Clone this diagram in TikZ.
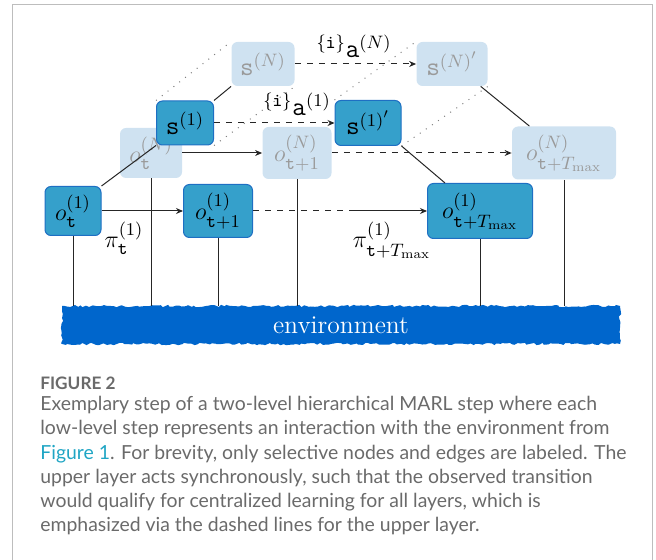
\documentclass[tikz,border=0pt]{standalone}
\usepackage{amsmath,amssymb}
\usepackage{xcolor}
\usepackage{fontspec}
\newfontfamily\captionfont{Lato}
\usetikzlibrary{arrows.meta,calc,decorations.pathmorphing}

\definecolor{lowblue}{HTML}{35A0CB}
\definecolor{lowedge}{HTML}{1E6FC3}
\definecolor{highblue}{HTML}{CFE2F1}
\definecolor{highgray}{HTML}{9A9A9A}
\definecolor{envblue}{HTML}{0066CC}
\definecolor{capgray}{HTML}{6A6A6A}
\definecolor{linkteal}{HTML}{1FA5C4}
\definecolor{framegray}{HTML}{BDBDBD}

\begin{document}
\begin{tikzpicture}[x=0.5pt,y=-0.5pt,
  lowbox/.style={draw=lowedge, fill=lowblue, line width=0.5pt, rounded corners=3pt, inner sep=0pt, font=\fontsize{13.2}{15}\selectfont},
  highbox/.style={fill=highblue, text=highgray, rounded corners=3pt, inner sep=0pt, font=\fontsize{13.2}{15}\selectfont},
  edgelabel/.style={font=\fontsize{13.2}{15}\selectfont},
  link/.style={line width=0.5pt, black!85},
  arrowlink/.style={link, -{Stealth[length=3.5pt,width=3pt]}},
  layerdots/.style={gray, line width=0.5pt, dash pattern=on 0.5pt off 3.2pt}]
\useasboundingbox (0,0) rectangle (656,560);

% Frame
\draw[framegray, line width=0.8pt] (12.5,560) -- (12.5,4.5) -- (652.5,4.5) -- (652.5,560);

% Upper layer (agent N)
\node[highbox, minimum width=31.5pt, minimum height=22pt] (sN) at (263,64) {$\mathtt{s}^{(N)}$};
\node[highbox, minimum width=35.5pt, minimum height=22pt] (sNp) at (452,64) {$\mathtt{s}^{(N)'}$};
\node[highbox, minimum width=31pt, minimum height=25pt] (otN) at (151,153) {$o^{(N)}_{\mathtt{t}}$};
\node[highbox, minimum width=34.5pt, minimum height=26pt] (ot1N) at (297,153) {$o^{(N)}_{\mathtt{t}+1}$};
\node[highbox, minimum width=52pt, minimum height=26.5pt] (oTN) at (564,153) {$o^{(N)}_{\mathtt{t}+T_{\max}}$};

% Lower layer (agent 1)
\node[lowbox, minimum width=28.5pt, minimum height=22pt] (s1) at (185,123) {$\mathtt{s}^{(1)}$};
\node[lowbox, minimum width=33pt, minimum height=22.5pt] (s1p) at (368,123) {$\mathtt{s}^{(1)'}$};
\node[lowbox, minimum width=28pt, minimum height=24.5pt] (ot1) at (73,211) {$o^{(1)}_{\mathtt{t}}$};
\node[lowbox, minimum width=34.5pt, minimum height=26.5pt] (ot11) at (218,211) {$o^{(1)}_{\mathtt{t}+1}$};
\node[lowbox, minimum width=52.5pt, minimum height=27.5pt] (oT1) at (480,211) {$o^{(1)}_{\mathtt{t}+T_{\max}}$};

% Environment
\node[fill=envblue, text=white, font=\fontsize{12.8}{15}\selectfont, minimum width=279pt, minimum height=19pt, inner sep=0pt,
  decorate, decoration={random steps, segment length=1.5pt, amplitude=0.6pt}] (env) at (341,325) {environment};

% Dotted layer edges
\draw[layerdots] (s1.north west) -- (sN.north west);
\draw[layerdots] (s1.south east) -- (sN.south east);
\draw[layerdots] (s1p.north west) -- (sNp.north west);
\draw[layerdots] (s1p.south east) -- (sNp.south east);

% Hierarchy links
\draw[link] (ot1.north east) -- (s1.south west);
\draw[link] (s1.north east) -- (sN.south west);
\draw[link] (s1p.south east) -- ($(oT1.north west)!0.17!(oT1.north east)$);
\draw[link] ($(sNp.south west)!0.9!(sNp.south east)$) -- ($(oTN.north west)!0.17!(oTN.north east)$);

% Interaction with the environment
\foreach \o in {ot1,otN,ot11,ot1N,oT1,oTN}
  \draw[link] (\o.south) -- (\o.south |- env.north);

% Transitions
\coordinate (skip1) at (355,211);
\draw[arrowlink] (ot1) -- (ot11);
\draw[link, dashed] (ot11) -- (skip1);
\draw[arrowlink] (skip1) -- (oT1);
\draw[arrowlink] (otN) -- (ot1N);
\draw[arrowlink, dashed] (ot1N) -- (oTN);
\draw[arrowlink, dashed] (s1) -- (s1p);
\draw[arrowlink, dashed] (sN) -- (sNp);

% Edge labels
\node[edgelabel] (piT) at (124,238) {$\pi^{(1)}_{\mathtt{t}}$};
\node[edgelabel] (piTmax) at (392,240) {$\pi^{(1)}_{\mathtt{t}+T_{\max}}$};
\node[edgelabel] (act1) at (297,104) {${}^{\{\mathtt{i}\}}\mathtt{a}^{(1)}$};
\node[edgelabel] (actN) at (354,46) {${}^{\{\mathtt{i}\}}\mathtt{a}^{(N)}$};

% Caption
\node[anchor=north west, inner sep=0pt, text=capgray, font=\captionfont\bfseries\fontsize{8.6}{10}\selectfont] (figno) at (40,377) {FIGURE 2};
\node[anchor=north west, inner sep=0pt, align=left, text=capgray, font=\captionfont\fontsize{9.7}{12.1}\selectfont] (caption) at (40,396)
  {Exemplary step of a two-level hierarchical MARL step where each\\
   low-level step represents an interaction with the environment from\\
   {\color{linkteal}Figure 1}. For brevity, only selective nodes and edges are labeled. The\\
   upper layer acts synchronously, such that the observed transition\\
   would qualify for centralized learning for all layers, which is\\
   emphasized via the dashed lines for the upper layer.};
\end{tikzpicture}
\end{document}
